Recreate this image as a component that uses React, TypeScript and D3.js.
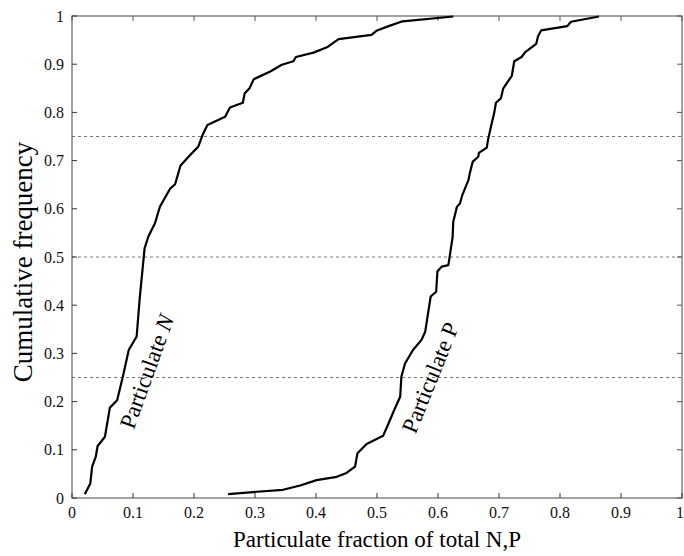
import React from "react";
import * as d3 from "d3";

const nX = [0.021, 0.030, 0.033, 0.039, 0.042, 0.054, 0.062, 0.074, 0.084, 0.093, 0.106, 0.111, 0.119, 0.125, 0.136, 0.144, 0.151, 0.161, 0.169, 0.178, 0.191, 0.207, 0.214, 0.222, 0.251, 0.259, 0.280, 0.283, 0.291, 0.298, 0.325, 0.344, 0.363, 0.367, 0.396, 0.418, 0.437, 0.491, 0.500, 0.519, 0.542, 0.625];
const nY = [0.008, 0.030, 0.065, 0.086, 0.108, 0.127, 0.187, 0.203, 0.255, 0.307, 0.335, 0.414, 0.518, 0.542, 0.570, 0.604, 0.620, 0.642, 0.651, 0.690, 0.708, 0.729, 0.753, 0.774, 0.791, 0.810, 0.820, 0.839, 0.850, 0.869, 0.885, 0.899, 0.906, 0.915, 0.924, 0.935, 0.952, 0.961, 0.970, 0.979, 0.989, 0.999];

const pX = [0.256, 0.303, 0.346, 0.374, 0.401, 0.434, 0.450, 0.464, 0.468, 0.483, 0.510, 0.519, 0.527, 0.538, 0.540, 0.546, 0.551, 0.559, 0.573, 0.579, 0.582, 0.588, 0.597, 0.599, 0.606, 0.617, 0.620, 0.624, 0.625, 0.631, 0.636, 0.640, 0.650, 0.652, 0.657, 0.666, 0.667, 0.680, 0.682, 0.688, 0.692, 0.695, 0.703, 0.707, 0.721, 0.725, 0.737, 0.743, 0.761, 0.764, 0.769, 0.812, 0.818, 0.864];
const pY = [0.008, 0.013, 0.017, 0.026, 0.037, 0.044, 0.052, 0.065, 0.093, 0.112, 0.129, 0.155, 0.179, 0.210, 0.252, 0.279, 0.290, 0.307, 0.328, 0.345, 0.369, 0.418, 0.428, 0.470, 0.480, 0.483, 0.508, 0.542, 0.573, 0.604, 0.611, 0.629, 0.660, 0.673, 0.698, 0.708, 0.716, 0.727, 0.743, 0.777, 0.798, 0.820, 0.829, 0.850, 0.876, 0.906, 0.915, 0.925, 0.942, 0.958, 0.970, 0.979, 0.988, 0.999];

const xTicks = [0, 0.1, 0.2, 0.3, 0.4, 0.5, 0.6, 0.7, 0.8, 0.9, 1];
const xTickLabels = ["0", "0.1", "0.2", "0.3", "0.4", "0.5", "0.6", "0.7", "0.8", "0.9", "1"];
const yTicks = [0, 0.1, 0.2, 0.3, 0.4, 0.5, 0.6, 0.7, 0.8, 0.9, 1];
const yTickLabels = ["0", "0.1", "0.2", "0.3", "0.4", "0.5", "0.6", "0.7", "0.8", "0.9", "1"];
const refLines = [0.25, 0.5, 0.75];

const W = 684, H = 556;
const left = 72, right = 682, top = 16, bottom = 498;
const font = "'Liberation Serif', 'Times New Roman', serif";

export default function App() {
  const x = d3.scaleLinear().domain([0, 1]).range([left, right]);
  const y = d3.scaleLinear().domain([0, 1]).range([bottom, top]);
  const line = d3.line<[number, number]>().x(d => x(d[0])).y(d => y(d[1]));
  const nPts: [number, number][] = nX.map((v, i) => [v, nY[i]]);
  const pPts: [number, number][] = pX.map((v, i) => [v, pY[i]]);
  const tl = 5;
  return (
    <svg width={W} height={H} style={{ position: "absolute", left: 0, top: 0, background: "#fff" }}>
      {refLines.map(v => (
        <line key={v} x1={left} x2={right} y1={y(v)} y2={y(v)} stroke="#666" strokeWidth={0.9} strokeDasharray="3,3" />
      ))}
      <rect x={left} y={top} width={right - left} height={bottom - top} fill="none" stroke="#444" strokeWidth={1} />
      {xTicks.map((v, i) => (
        <g key={"x" + i}>
          <line x1={x(v)} x2={x(v)} y1={bottom} y2={bottom - tl} stroke="#333" />
          <line x1={x(v)} x2={x(v)} y1={top} y2={top + tl} stroke="#555" />
          <text x={i === xTicks.length - 1 ? x(v) - 2 : x(v)} y={518} textAnchor="middle" fontFamily={font} fontSize={16} fill="#111">{xTickLabels[i]}</text>
        </g>
      ))}
      {yTicks.map((v, i) => (
        <g key={"y" + i}>
          <line x1={left} x2={left + tl} y1={y(v)} y2={y(v)} stroke="#333" />
          <line x1={right} x2={right - tl} y1={y(v)} y2={y(v)} stroke="#555" />
          <text x={64} y={y(v)} dy="0.35em" textAnchor="end" fontFamily={font} fontSize={16} fill="#111">{yTickLabels[i]}</text>
        </g>
      ))}
      <path d={line(nPts) || ""} fill="none" stroke="#000" strokeWidth={2.2} strokeLinejoin="round" />
      <path d={line(pPts) || ""} fill="none" stroke="#000" strokeWidth={2.2} strokeLinejoin="round" />
      <text transform="translate(146.5,371.5) rotate(-70)" textAnchor="middle" dy="0.35em" fontFamily={font} fontSize={23} fill="#000">
        Particulate <tspan fontStyle="italic">N</tspan>
      </text>
      <text transform="translate(430,377.5) rotate(-68)" textAnchor="middle" dy="0.35em" fontFamily={font} fontSize={23} fill="#000">
        Particulate P
      </text>
      <text x={(left + right) / 2} y={547} textAnchor="middle" fontFamily={font} fontSize={23} fill="#000">
        Particulate fraction of total N,P
      </text>
      <text transform="translate(32,262) rotate(-90)" textAnchor="middle" fontFamily={font} fontSize={27} fill="#000">
        Cumulative frequency
      </text>
    </svg>
  );
}
